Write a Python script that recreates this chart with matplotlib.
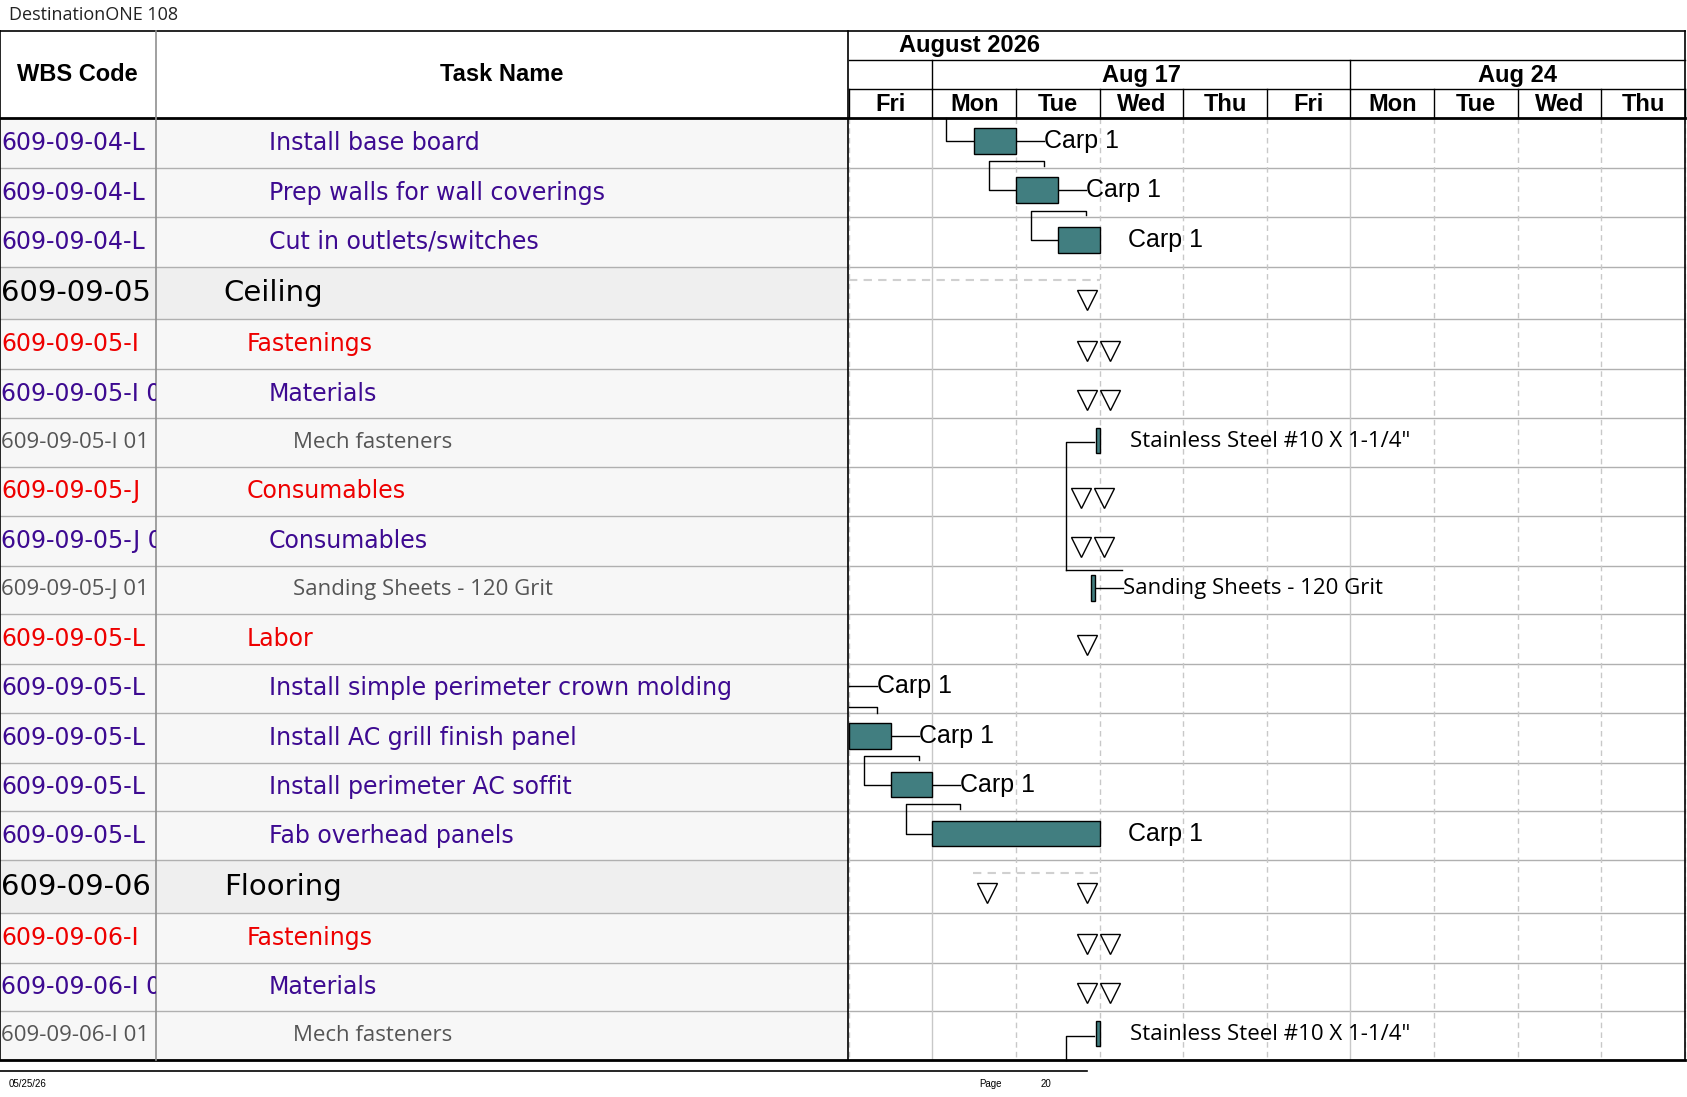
import matplotlib
matplotlib.use("Agg")
import matplotlib.pyplot as plt
from matplotlib.patches import Rectangle

W, H = 1568, 1020
title = "DestinationONE 108"
days = ["Fri", "Mon", "Tue", "Wed", "Thu", "Fri", "Mon", "Tue", "Wed", "Thu"]
weeks = [("Aug 17", 1, 6), ("Aug 24", 6, 10)]
month = "August 2026"

wbs = ["609-09-04-L", "609-09-04-L", "609-09-04-L", "609-09-05", "609-09-05-I",
       "609-09-05-I 01", "609-09-05-I 01", "609-09-05-J", "609-09-05-J 01", "609-09-05-J 01",
       "609-09-05-L", "609-09-05-L", "609-09-05-L", "609-09-05-L", "609-09-05-L",
       "609-09-06", "609-09-06-I", "609-09-06-I 01", "609-09-06-I 01"]
tasks = ["Install base board", "Prep walls for wall coverings", "Cut in outlets/switches",
         "Ceiling", "Fastenings", "Materials", "Mech fasteners", "Consumables", "Consumables",
         "Sanding Sheets - 120 Grit", "Labor", "Install simple perimeter crown molding",
         "Install AC grill finish panel", "Install perimeter AC soffit", "Fab overhead panels",
         "Flooring", "Fastenings", "Materials", "Mech fasteners"]
levels = [3, 3, 3, 0, 1, 2, 3, 1, 2, 3, 1, 3, 3, 3, 3, 0, 1, 2, 3]
bar_start = [1.5, 2.0, 2.5, None, None, None, 2.96, None, None, 2.90, None, -0.5, 0.0, 0.5, 1.0, None, None, None, 2.96]
bar_end   = [2.0, 2.5, 3.0, None, None, None, 3.0, None, None, 2.94, None, 0.0, 0.5, 1.0, 3.0, None, None, None, 3.0]
labels = ["Carp 1", "Carp 1", "Carp 1", "", "", "", 'Stainless Steel #10 X 1-1/4"', "", "",
          "Sanding Sheets - 120 Grit", "", "Carp 1", "Carp 1", "Carp 1", "Carp 1", "", "", "",
          'Stainless Steel #10 X 1-1/4"']
tri_single = {3: [2.85], 10: [2.85], 15: [1.65, 2.85]}
tri_double = {4: 2.85, 5: 2.85, 7: 2.78, 8: 2.78, 16: 2.85, 17: 2.85}

bounds = [110, 156, 202, 248, 297, 343, 389, 434, 480, 526, 571, 617, 663, 709, 754, 800, 849, 895, 940, 986]

X0, DW = 789, 77.7
def dx(d): return X0 + d * DW

fig = plt.figure(figsize=(16.87, 10.97), dpi=100)
ax = fig.add_axes([0, 0, 1, 1])
ax.set_xlim(0, W); ax.set_ylim(H, 0); ax.axis("off")

SANS = "Liberation Sans"
UI = "Open Sans"

ax.text(8, 14, title, fontsize=13, family=UI, va="center", color="#222")

for i in range(len(tasks)):
    y0, y1 = bounds[i], bounds[i + 1]
    col = "#efefef" if levels[i] == 0 else "#f7f7f7"
    ax.add_patch(Rectangle((0, y0), 788, y1 - y0, fc=col, ec="none", zorder=0))
    ax.plot([0, W - 2], [y1, y1], color="#b0b0b0", lw=1, zorder=1)

for k in range(len(days) + 1):
    x = dx(k)
    solid = k in (1, 6)
    ax.plot([x, x], [110, 986], color="#c8c8c8", lw=1, ls="-" if solid else (0, (4, 3)), zorder=1)
    ax.plot([x, x], [83, 110], color="black", lw=1)
for k, d in enumerate(days):
    ax.text(dx(k + 0.5), 97, d, ha="center", va="center", fontsize=17, weight="bold", family=SANS)
for name, a, b in weeks:
    ax.text((dx(a) + dx(b)) / 2, 70, name, ha="center", va="center", fontsize=17, weight="bold", family=SANS)
    ax.plot([dx(a), dx(a)], [56, 83], color="black", lw=1)
ax.text(dx(0.6), 42, month, ha="left", va="center", fontsize=17, weight="bold", family=SANS)

ax.plot([0, W - 2], [29, 29], color="black", lw=1.2)
ax.plot([X0, W - 2], [56, 56], color="black", lw=1)
ax.plot([X0, W - 2], [83, 83], color="black", lw=1)
ax.plot([0, W - 2], [110, 110], color="black", lw=2)
ax.plot([0, W - 2], [986, 986], color="black", lw=2)
for x in (0, 145, 788, W - 2):
    ax.plot([x, x], [29, 986], color="black" if x != 145 else "#909090", lw=1.2, zorder=3)
ax.text(72, 69, "WBS Code", ha="center", va="center", fontsize=17, weight="bold", family=SANS)
ax.text(466, 69, "Task Name", ha="center", va="center", fontsize=17, weight="bold", family=SANS)

clip = Rectangle((0, 0), 145, H, transform=ax.transData)
colors = {0: "black", 1: "#ee0000", 2: "#3d0a91", 3: "#3d0a91"}
indent = {0: 208, 1: 229, 2: 250, 3: 250}
for i in range(len(tasks)):
    yc = (bounds[i] + bounds[i + 1]) / 2
    lv = levels[i]
    grey = (i in (6, 9, 18))
    c = "#555555" if grey else colors[lv]
    fs = 21 if lv == 0 else (16 if grey else 17)
    t = ax.text(1, yc, wbs[i], ha="left", va="center", fontsize=fs, color=c, family=UI if grey else "DejaVu Sans", clip_on=True)
    t.set_clip_path(clip)
    xi = 272 if grey else indent[lv]
    ax.text(xi, yc, tasks[i], ha="left", va="center", fontsize=fs, color=c,
            family=UI if grey else "DejaVu Sans")

fill = "#417e80"
prev = None
for i in range(len(tasks)):
    yc = (bounds[i] + bounds[i + 1]) / 2 - 2
    if bar_start[i] is not None:
        x0, x1 = dx(bar_start[i]), dx(bar_end[i])
        milestone = (x1 - x0) < 10
        h = 24
        if x1 > X0:
            ax.add_patch(Rectangle((x0, yc - h / 2), x1 - x0, h, fc=fill, ec="black", lw=1, zorder=4))
        lab = labels[i]
        if milestone:
            lx = x1 + 28 if i != 9 else x1 + 26
            if i == 9:
                ax.plot([x1, lx], [yc, yc], color="black", lw=1, zorder=3)
            ax.text(lx, yc + 1, lab, ha="left", va="center", fontsize=16, family=UI, zorder=5)
        else:
            lx = max(x1, X0) + 26
            if i not in (2, 14):
                ax.plot([max(x1, X0), lx], [yc, yc], color="black", lw=1, zorder=3)
            ax.text(lx, yc, lab, ha="left", va="center", fontsize=18, family=SANS, zorder=5)
        if prev is not None and prev == i - 1 and not milestone:
            px1 = max(dx(bar_end[prev]), X0)
            ptop = bounds[i] - 6
            jx = x0 - 25 if x0 - 25 > X0 else X0 + 14
            if x0 > X0:
                ax.plot([px1 + 26, px1 + 26, jx, jx, x0], [yc - 23, ptop, ptop, yc, yc], color="black", lw=1, zorder=3)
            else:
                ax.plot([X0, px1 + 26, px1 + 26], [ptop, ptop, bounds[i]], color="black", lw=1, zorder=3)
        elif i == 0:
            jx = x0 - 26
            ax.plot([jx, jx, x0], [110, yc, yc], color="black", lw=1, zorder=3)
        prev = i if not milestone else None
    for xd in tri_single.get(i, []):
        ax.plot([dx(xd)], [yc + 8], marker="v", ms=15, mfc="white", mec="black", mew=1, zorder=4)
    if i in tri_double:
        xd = tri_double[i]
        ax.plot([dx(xd), dx(xd) + 21], [yc + 8, yc + 8], ls="none", marker="v", ms=15, mfc="white", mec="black", mew=1, zorder=4)
    if levels[i] == 0:
        xs = [dx(min(tri_single[i]) - 0.17), dx(3.0)] if i == 15 else [X0, dx(3.0)]
        ax.plot(xs, [bounds[i] + 12] * 2, color="#d0d0d0", lw=1.5, ls=(0, (4, 3)), zorder=2)

ax.plot([991, 991, 1017], [530, 411, 411], color="black", lw=1, zorder=3)
ax.plot([991, 1043], [530, 530], color="black", lw=1, zorder=3)
ax.plot([991, 991, 1017], [986, 963, 963], color="black", lw=1, zorder=3)

ax.plot([0, 1010], [996, 996], color="black", lw=1.2)
ax.text(8, 1008, "05/25/26", fontsize=7, family=SANS, va="center")
ax.text(910, 1008, "Page", fontsize=7, family=SANS, va="center")
ax.text(967, 1008, "20", fontsize=7, family=SANS, va="center")

fig.savefig("out.png", dpi=100)
